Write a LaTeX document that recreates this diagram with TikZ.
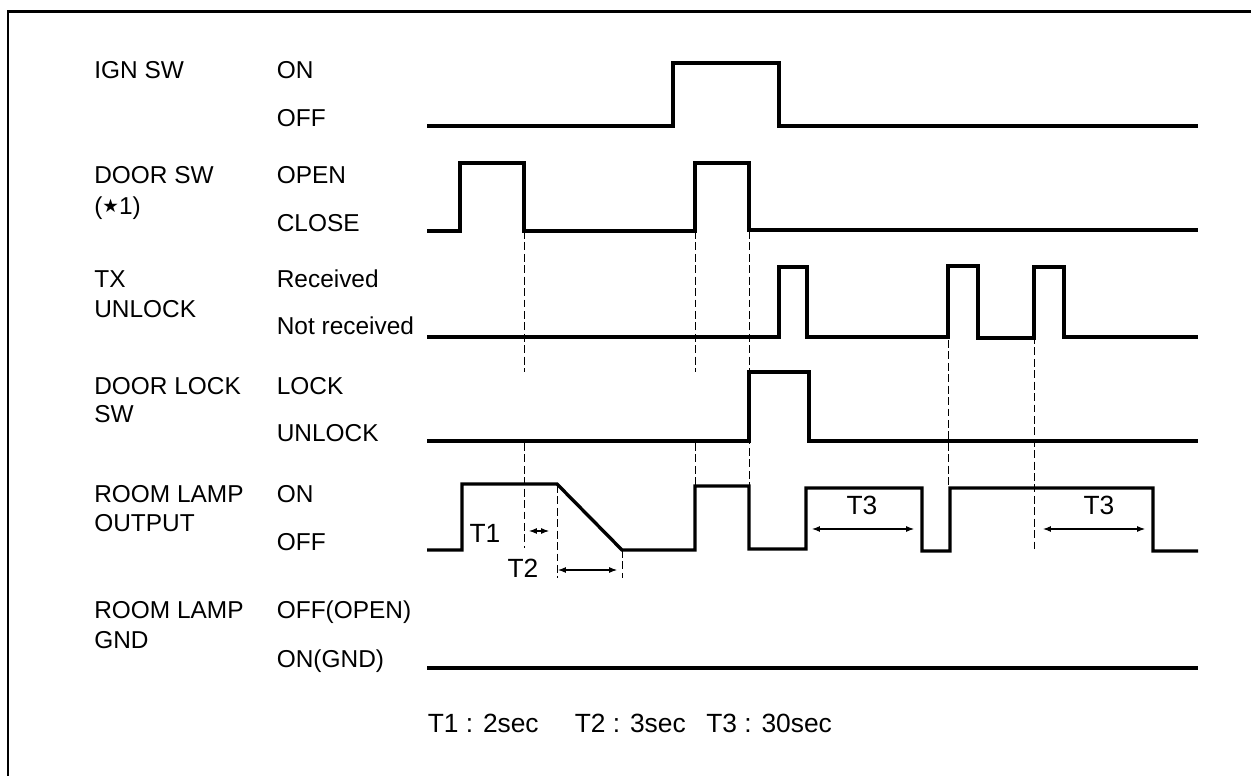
\documentclass[tikz,border=0pt]{standalone}
\usepackage{fontspec}
\setmainfont{Liberation Sans}
\newfontfamily\starfont{DejaVu Sans}
\usetikzlibrary{arrows.meta}
\tikzset{
    wave/.style={line width=1.9pt},
    gnd wave/.style={line width=2.5pt},
    guide/.style={line width=0.5pt, dash pattern=on 4.5pt off 2pt},
    span/.style={{Latex[length=4.5pt,width=3.4pt]}-{Latex[length=4.5pt,width=3.4pt]},
                 line width=0.6pt},
    sig/.style={anchor=base west, inner sep=0pt,
                font=\fontsize{13.9}{16}\selectfont},
    tlabel/.style={anchor=base, inner sep=0pt,
                   font=\fontsize{15}{18}\selectfont},
}
\newcommand{\framelines}{
    \draw[line width=1.3pt] (8,776) -- (8,11.5) -- (1251,11.5);
}
\newcommand{\refstar}{\raisebox{1.4pt}{\fontsize{10.5}{11}\starfont ★}}

\begin{document}
\begin{tikzpicture}[x=0.02cm, y=-0.02cm]
    \path[use as bounding box] (0,0) rectangle (1251,776);
    \framelines

    % signal names
    \foreach \name/\y/\txt in {ign/79/IGN SW, door/184/DOOR SW,
            doorref/215/{(\refstar1)}, tx/288/TX, txb/318/UNLOCK,
            lock/395/DOOR LOCK, lockb/423/SW, lamp/503/ROOM LAMP,
            lampb/532/OUTPUT, gnd/619/ROOM LAMP, gndb/648/GND}
        \node[sig] (\name) at (94,\y) {\txt};

    % states
    \foreach \name/\y/\txt in {ignon/79/ON, ignoff/127/OFF, dooropen/184/OPEN,
            doorclose/232/CLOSE, txrec/288/Received, txnot/335/Not received,
            locklock/395/LOCK, lockunlock/442/UNLOCK, lampon/503/ON,
            lampoff/551/OFF, gndoff/619/OFF(OPEN), gndon/667/ON(GND)}
        \node[sig] (\name) at (276.5,\y) {\txt};

    % waveforms
    \draw[wave] (427,126) -| (673,63) -| (779,126) -- (1198,126);
    \draw[wave] (427,231) -| (460,163) -| (524,231) -| (695,163) -| (749,230)
        -- (1198,230);
    \draw[wave] (427,337) -| (779,267) -| (807,337) -| (948,266) -| (978,338)
        -| (1034,267) -| (1064,337) -- (1198,337);
    \draw[wave] (427,441) -| (749,372) -| (809,441) -- (1198,441);
    \draw[wave] (427,550) -| (462,484) -- (557,484) -- (622,550) -| (695,486)
        -| (749,549) -| (806,488) -| (922,551) -| (950,488) -| (1153,551)
        -- (1198,551);
    \draw[gnd wave] (427,668) -- (1198,668);

    % timing guides
    \draw[guide] (524,231) -- (524,372) (524,443) -- (524,548);
    \draw[guide] (695,231) -- (695,372) (695,443) -- (695,485);
    \draw[guide] (749,231) -- (749,486);
    \draw[guide] (948,340) -- (948,487);
    \draw[guide] (1034,336) -- (1034,550);
    \draw[guide] (557,485) -- (557,578);
    \draw[guide] (622,550) -- (622,578);

    % intervals
    \coordinate (t1a) at (529,531);  \coordinate (t1b) at (549,531);
    \coordinate (t2a) at (558,570);  \coordinate (t2b) at (617,570);
    \coordinate (t3a) at (812,529);  \coordinate (t3b) at (914,529);
    \coordinate (t3c) at (1043,529); \coordinate (t3d) at (1145,529);
    \draw[span] (t1a) -- (t1b);
    \draw[span] (t2a) -- (t2b);
    \draw[span] (t3a) -- (t3b);
    \draw[span] (t3c) -- (t3d);
    \node[tlabel] (t1) at (485,542) {T1};
    \node[tlabel] (t2) at (523,578) {T2};
    \node[tlabel] (t3) at (862,515) {T3};
    \node[tlabel] (t3late) at (1099,515) {T3};

    % legend
    \node[tlabel, anchor=base west] (t1note) at (427.5,732) {T1 : 2sec};
    \node[tlabel, anchor=base west] (t2note) at (574.5,732) {T2 : 3sec};
    \node[tlabel, anchor=base west] (t3note) at (706,732) {T3 : 30sec};
\end{tikzpicture}
\end{document}
